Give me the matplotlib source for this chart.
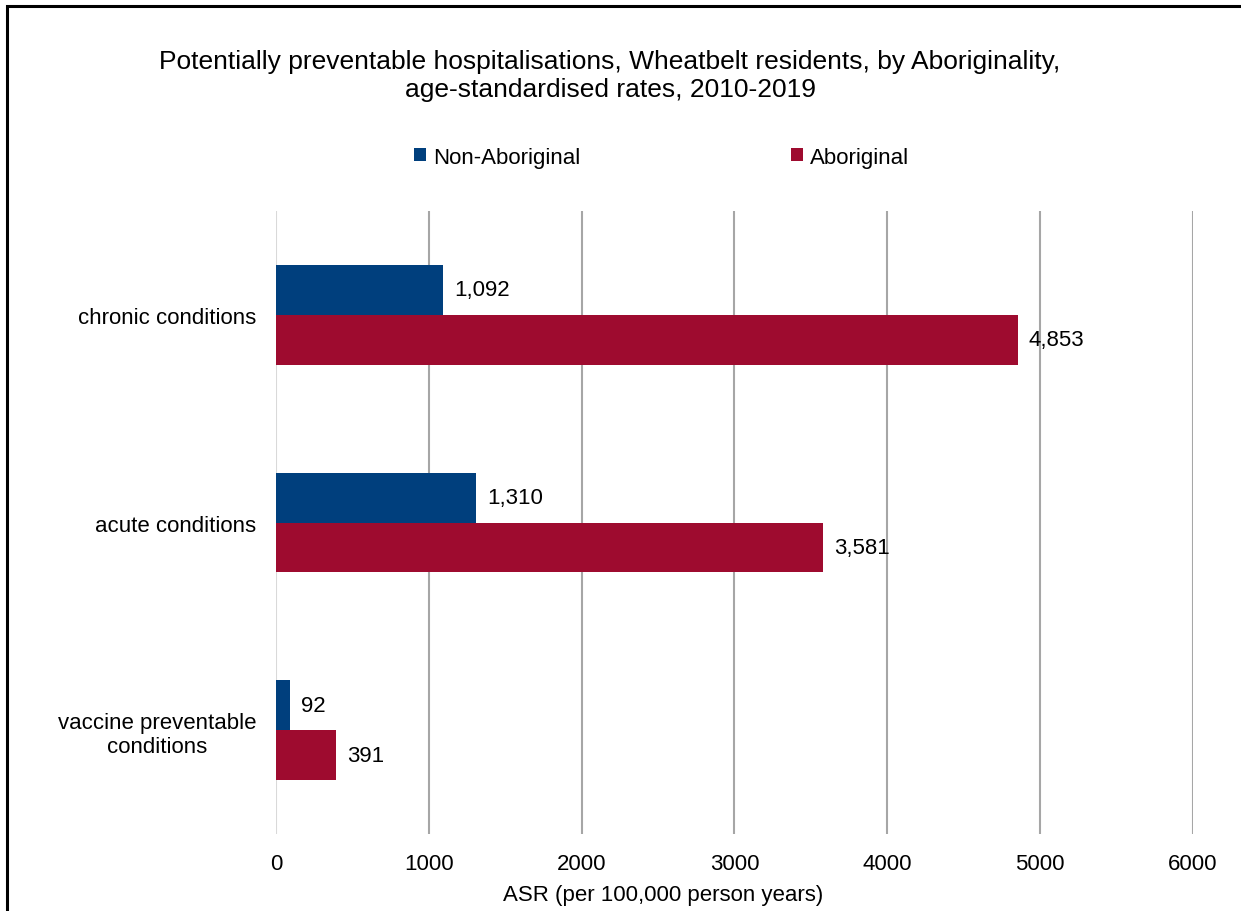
import matplotlib.pyplot as plt
import numpy as np
from matplotlib.patches import Rectangle

plt.rcParams['font.family'] = ['Liberation Sans', 'DejaVu Sans']

categories = ['chronic conditions', 'acute conditions', 'vaccine preventable\nconditions']
non_aboriginal = [1092, 1310, 92]
aboriginal = [4853, 3581, 391]
series_names = ['Non-Aboriginal', 'Aboriginal']
color_blue = '#003F7D'
color_red = '#9E0B2F'

fig = plt.figure(figsize=(12.41, 9.12), dpi=100)
ax = fig.add_axes([0.2224, 0.0844, 0.7389, 0.6831])

y = np.arange(len(categories))
h = 0.24
b1 = ax.barh(y - h / 2, non_aboriginal, height=h, color=color_blue, label=series_names[0], zorder=3)
b2 = ax.barh(y + h / 2, aboriginal, height=h, color=color_red, label=series_names[1], zorder=3)
ax.bar_label(b1, labels=[f'{v:,.0f}' for v in non_aboriginal], padding=8, fontsize=16)
ax.bar_label(b2, labels=[f'{v:,.0f}' for v in aboriginal], padding=8, fontsize=16)

ax.set_xlim(0, 6000)
ax.set_ylim(2.5, -0.5)
ax.set_xticks(np.arange(0, 6001, 1000))
ax.set_yticks(y)
ax.set_yticklabels(categories, fontsize=16)
for t in ax.get_yticklabels():
    t.set_multialignment('center')
ax.tick_params(axis='x', labelsize=16, length=0, pad=14)
ax.tick_params(axis='y', length=0, pad=14)
for s in ax.spines.values():
    s.set_visible(False)
ax.grid(axis='x', color='#A6A6A6', linewidth=1.5, zorder=0)
ax.axvline(0, color='#D9D9D9', linewidth=1.5, zorder=1)
ax.get_xgridlines()[0].set_visible(False)

ax.set_xlabel('ASR (per 100,000 person years)', fontsize=16)
ax.xaxis.set_label_coords(0.422, -0.08)

fig.text(0.4916, 0.9167, 'Potentially preventable hospitalisations, Wheatbelt residents, by Aboriginality,\n'
         'age-standardised rates, 2010-2019', ha='center', va='center', fontsize=19, linespacing=1.2)

fig.legend(handles=[b1, b2], loc='center', bbox_to_anchor=(0.533, 0.8267), ncol=2, frameon=False,
           fontsize=16, handlelength=0.55, handleheight=0.55, handletextpad=0.3, columnspacing=9.5)

fig.patches.append(Rectangle((7 / 1241, -0.1), 1.2, 1.1 - 6.5 / 912, transform=fig.transFigure,
                             fill=False, edgecolor='black', linewidth=2.2))

fig.savefig('out.png', dpi=100)
